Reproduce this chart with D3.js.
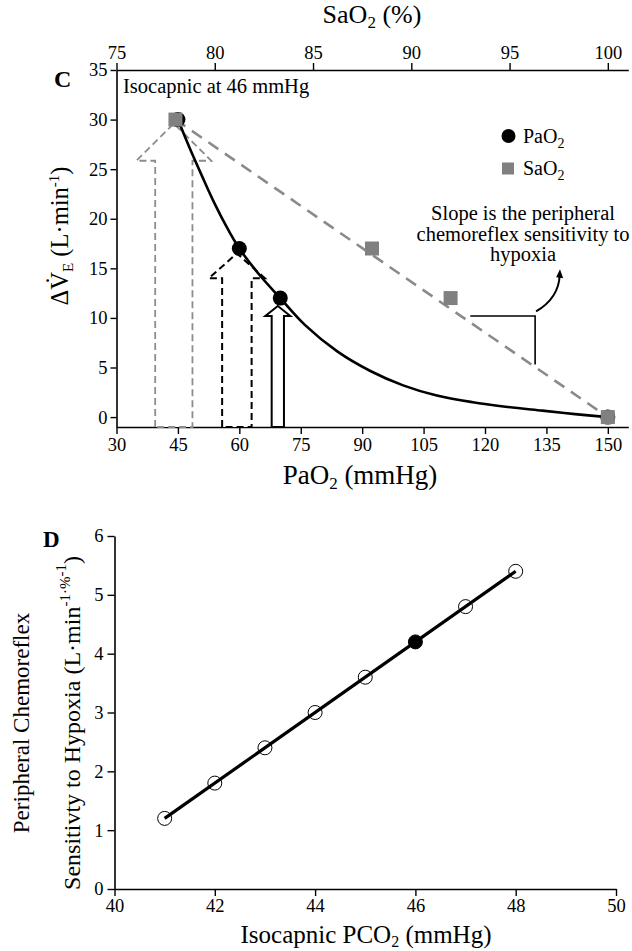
<!DOCTYPE html>
<html><head><meta charset="utf-8">
<script src="https://cdn.jsdelivr.net/npm/d3@7"></script>
<style>
html,body{margin:0;padding:0;background:#fff;}
svg text{font-family:"Liberation Serif","Times New Roman","DejaVu Serif",serif;fill:#000;}
</style></head>
<body><svg id="chart" width="632" height="951"></svg>
<script>
// ---------- Panel C data ----------
const paTicks = [30, 45, 60, 75, 90, 105, 120, 135, 150];
const saTicks = [75, 80, 85, 90, 95, 100];
const veTicks = [0, 5, 10, 15, 20, 25, 30, 35];
const paO2Points = [45, 60, 70, 150];
const paO2Ve = [30, 17, 12, 0];
const saO2Points = [78, 88, 92, 100];
const saO2Ve = [30, 17, 12, 0];
// fitted PaO2 curve
const curvePaO2 = [45, 48, 51, 54, 57, 60, 65, 70, 76, 84, 92, 100, 108, 117, 125, 134, 142, 150];
const curveVe   = [30, 27, 24.2, 21.5, 19.1, 17, 14.3, 12, 9.3, 6.6, 4.65, 3.2, 2.2, 1.5, 1.05, 0.65, 0.3, 0];
// block arrows (PaO2 units / ΔVE units)
const arrowCenter    = [44, 59.4, 69.4];
const arrowShaftHalf = [4.55, 3.6, 1.5];
const arrowHeadHalf  = [9.15, 6.85, 3.05];
const arrowHeadBase  = [25.85, 14.0, 10.2];
const arrowTip       = [29.6, 16.5, 11.2];
// slope triangle (SaO2 units)
const slopeX = [93.0, 96.3];
const slopeY = [10.2, 5.3];

// ---------- Panel D data ----------
const pco2 = [41, 42, 43, 44, 45, 46, 47, 48];
const sensitivity = [1.2, 1.8, 2.4, 3.0, 3.6, 4.2, 4.8, 5.4];
const filledPco2 = 46;
const pcoTicks = [40, 42, 44, 46, 48, 50];
const sensTicks = [0, 1, 2, 3, 4, 5, 6];

const FONT = '"Liberation Serif","Times New Roman","DejaVu Serif",serif';
const svg = d3.select("#chart").style("font-family", FONT);
const FS_TICK = 18.5;

function styleAxis(a) {
  a.attr("font-family", FONT);
  a.selectAll("path").attr("stroke", "#000").attr("stroke-width", 1.6);
  a.selectAll("line").attr("stroke", "#000").attr("stroke-width", 1.4);
  a.selectAll("text").attr("font-family", FONT).style("font-size", FS_TICK + "px");
}

// ---------- Panel C scales ----------
const xPa = d3.scaleLinear().domain([30, 155]).range([116.5, 628.3]);
const xSa = d3.scaleLinear().domain([75, 75 + 125 / 4.8]).range([116.5, 628.3]);
const yVe = d3.scaleLinear().domain([-1, 35]).range([427, 70]);

const gC = svg.append("g");
const axB = gC.append("g").attr("transform", `translate(0,${yVe(-1)})`)
  .call(d3.axisBottom(xPa).tickValues(paTicks).tickSize(7).tickSizeOuter(0).tickPadding(4));
const axT = gC.append("g").attr("transform", `translate(0,${yVe(35)})`)
  .call(d3.axisTop(xSa).tickValues(saTicks).tickSize(7).tickSizeOuter(0).tickPadding(4));
const axL = gC.append("g").attr("transform", `translate(${xPa(30)},0)`)
  .call(d3.axisLeft(yVe).tickValues(veTicks).tickSize(6).tickSizeOuter(0).tickPadding(3));
[axB, axT, axL].forEach(styleAxis);

const tTop = gC.append("text").attr("x", 372).attr("y", 23)
  .attr("text-anchor", "middle").style("font-size", "26px");
tTop.append("tspan").text("SaO");
tTop.append("tspan").attr("dy", 5).style("font-size", "17px").text("2");
tTop.append("tspan").attr("dy", -5).text(" (%)");

const tBot = gC.append("text").attr("x", 360).attr("y", 484)
  .attr("text-anchor", "middle").style("font-size", "27px");
tBot.append("tspan").text("PaO");
tBot.append("tspan").attr("dy", 5).style("font-size", "17px").text("2");
tBot.append("tspan").attr("dy", -5).text(" (mmHg)");

const tLeft = gC.append("text").attr("transform", "translate(68,236) rotate(-90)")
  .attr("text-anchor", "middle").style("font-size", "24.5px");
tLeft.append("tspan").text("\u0394V\u0307");
tLeft.append("tspan").attr("dy", 5).style("font-size", "15px").text("E");
tLeft.append("tspan").attr("dy", -5).text(" (L\u00B7min");
tLeft.append("tspan").attr("dy", -9).style("font-size", "15px").text("-1");
tLeft.append("tspan").attr("dy", 9).text(")");

gC.append("text").attr("x", 54).attr("y", 87).style("font-size", "24px").style("font-weight", "bold").text("C");
gC.append("text").attr("x", 123).attr("y", 93).style("font-size", "20.5px").text("Isocapnic at 46 mmHg");

// block arrows
const arrowStyles = [
  {stroke: "#8c8c8c", dash: "7,4", w: 1.8},
  {stroke: "#000", dash: "7,4", w: 2},
  {stroke: "#000", dash: null, w: 2}
];
arrowCenter.forEach((c, i) => {
  const yb = yVe(-1);
  const pts = [
    [xPa(c - arrowShaftHalf[i]), yb],
    [xPa(c - arrowShaftHalf[i]), yVe(arrowHeadBase[i])],
    [xPa(c - arrowHeadHalf[i]), yVe(arrowHeadBase[i])],
    [xPa(c), yVe(arrowTip[i])],
    [xPa(c + arrowHeadHalf[i]), yVe(arrowHeadBase[i])],
    [xPa(c + arrowShaftHalf[i]), yVe(arrowHeadBase[i])],
    [xPa(c + arrowShaftHalf[i]), yb]
  ];
  const s = arrowStyles[i];
  gC.append("path").attr("d", d3.line()(pts) + "Z")
    .attr("fill", "#fff").attr("stroke", s.stroke).attr("stroke-width", s.w)
    .attr("stroke-dasharray", s.dash).attr("stroke-linejoin", "miter");
});

// SaO2 dashed line
gC.append("path")
  .attr("d", d3.line().x(d => xSa(d[0])).y(d => yVe(d[1]))([[saO2Points[0], saO2Ve[0]], [saO2Points[saO2Points.length - 1], saO2Ve[saO2Ve.length - 1]]]))
  .attr("fill", "none").attr("stroke", "#8a8a8a").attr("stroke-width", 2.6).attr("stroke-dasharray", "12,8");

// PaO2 curve
gC.append("path")
  .attr("d", d3.line().x(d => xPa(d[0])).y(d => yVe(d[1])).curve(d3.curveCatmullRom.alpha(0.5))(curvePaO2.map((v, i) => [v, curveVe[i]])))
  .attr("fill", "none").attr("stroke", "#000").attr("stroke-width", 2.6);

// slope triangle
gC.append("path")
  .attr("d", d3.line()([[xSa(slopeX[0]), yVe(slopeY[0])], [xSa(slopeX[1]), yVe(slopeY[0])], [xSa(slopeX[1]), yVe(slopeY[1])]]))
  .attr("fill", "none").attr("stroke", "#000").attr("stroke-width", 1.6);
const cStart = [xSa(96.35), yVe(10.65)], cCtrl = [xSa(97.5), yVe(12.0)], cEnd = [xSa(97.55), yVe(14.3)];
gC.append("path").attr("d", `M${cStart}Q${cCtrl} ${cEnd}`).attr("fill", "none").attr("stroke", "#000").attr("stroke-width", 2);
gC.append("path").attr("d", d3.line()([[cEnd[0] - 3.5, cEnd[1] + 2], [cEnd[0] + 0.3, cEnd[1] - 6], [cEnd[0] + 3.5, cEnd[1] + 3]]) + "Z").attr("fill", "#000");

// points
gC.selectAll(".pa").data(paO2Points).enter().append("circle")
  .attr("cx", d => xPa(d)).attr("cy", (d, i) => yVe(paO2Ve[i])).attr("r", 7.5).attr("fill", "#000");
gC.selectAll(".sa").data(saO2Points).enter().append("rect")
  .attr("x", d => xSa(d) - 7).attr("y", (d, i) => yVe(saO2Ve[i]) - 7).attr("width", 14).attr("height", 14).attr("fill", "#808080");

// legend
gC.append("circle").attr("cx", 508.5).attr("cy", 136).attr("r", 7).attr("fill", "#000");
gC.append("rect").attr("x", 502).attr("y", 162.5).attr("width", 12).attr("height", 12).attr("fill", "#808080");
const l1 = gC.append("text").attr("x", 523).attr("y", 143).style("font-size", "20px");
l1.append("tspan").text("PaO"); l1.append("tspan").attr("dy", 5).style("font-size", "14px").text("2");
const l2 = gC.append("text").attr("x", 523).attr("y", 175).style("font-size", "20px");
l2.append("tspan").text("SaO"); l2.append("tspan").attr("dy", 5).style("font-size", "14px").text("2");

// annotation
const ann = ["Slope is the peripheral", "chemoreflex sensitivity to", "hypoxia"];
gC.selectAll(".ann").data(ann).enter().append("text")
  .attr("x", 523).attr("y", (d, i) => 220 + i * 20.7).attr("text-anchor", "middle")
  .style("font-size", "20.5px").text(d => d);

// ---------- Panel D ----------
const xP = d3.scaleLinear().domain([40, 50]).range([114.5, 616]);
const yS = d3.scaleLinear().domain([0, 6]).range([889, 536]);
const gD = svg.append("g");
const axDB = gD.append("g").attr("transform", `translate(0,${yS(0)})`)
  .call(d3.axisBottom(xP).tickValues(pcoTicks).tickFormat(d3.format("d")).tickSize(7).tickSizeOuter(0).tickPadding(3));
const axDL = gD.append("g").attr("transform", `translate(${xP(40)},0)`)
  .call(d3.axisLeft(yS).tickValues(sensTicks).tickFormat(d3.format("d")).tickSize(7).tickSizeOuter(0).tickPadding(4));
[axDB, axDL].forEach(styleAxis);
gD.append("text").attr("x", 43).attr("y", 547).style("font-size", "23px").style("font-weight", "bold").text("D");

const tDB = gD.append("text").attr("x", 366).attr("y", 943)
  .attr("text-anchor", "middle").style("font-size", "25px");
tDB.append("tspan").text("Isocapnic PCO");
tDB.append("tspan").attr("dy", 3.5).style("font-size", "16px").text("2");
tDB.append("tspan").attr("dy", -3.5).text(" (mmHg)");

gD.append("text").attr("transform", "translate(29,723) rotate(-90)").attr("text-anchor", "middle")
  .style("font-size", "23px").text("Peripheral Chemoreflex");
const tDL = gD.append("text").attr("transform", "translate(80,723) rotate(-90)").attr("text-anchor", "middle")
  .style("font-size", "24px");
tDL.append("tspan").text("Sensitivty to Hypoxia (L\u00B7min");
tDL.append("tspan").attr("dy", -10).style("font-size", "15px").text("-1\u00B7%");
tDL.append("tspan").attr("dy", -4).style("font-size", "15px").text("-1");
tDL.append("tspan").attr("dy", 14).text(")");

// regression line
gD.append("path")
  .attr("d", d3.line().x(d => xP(d[0])).y(d => yS(d[1]))([[pco2[0], sensitivity[0]], [pco2[pco2.length - 1], sensitivity[sensitivity.length - 1]]]))
  .attr("stroke", "#000").attr("stroke-width", 3.2).attr("fill", "none");
gD.selectAll(".pt").data(pco2).enter().append("circle")
  .attr("cx", d => xP(d)).attr("cy", (d, i) => yS(sensitivity[i])).attr("r", 7)
  .attr("fill", d => d === filledPco2 ? "#000" : "none")
  .attr("stroke", "#000").attr("stroke-width", 1);
</script></body></html>
